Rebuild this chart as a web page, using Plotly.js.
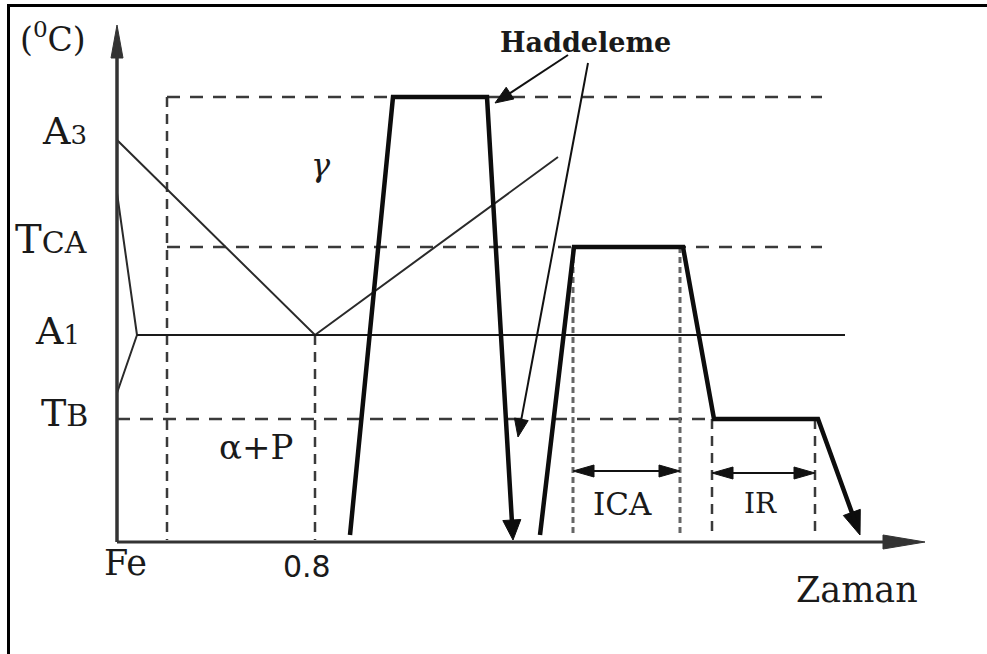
<!DOCTYPE html>
<html>
<head>
<meta charset="utf-8">
<script src="https://cdn.plot.ly/plotly-3.0.1.min.js"></script>
<style>html,body{margin:0;padding:0;background:#fff;}#chart{width:987px;height:654px;}</style>
</head>
<body>
<div id="chart"></div>
<script>
// ---- Schematic data (drawing units: x to the right = time / composition, y downward = lower temperature) ----
// Axes
const yAxisX = [117, 117];      const yAxisY = [542, 25];
const xAxisX = [117, 925];      const xAxisY = [542, 542];

// Fe–C phase diagram lines (A3 and Acm branches, A1 line, left small loop)
const a3BranchX = [117, 315, 558]; const a3BranchY = [140, 335, 157];
const leftLoopX = [117, 137, 117]; const leftLoopY = [193, 335, 393];
const a1LineX   = [137, 845];      const a1LineY   = [335, 335];

// Thermal process paths (thick)
const rollingX  = [350, 393, 487, 513];               const rollingY  = [535, 97, 97, 540];
const treatX    = [540, 574, 683, 714, 818, 860];      const treatY    = [535, 247, 247, 419, 419, 535];

// Dashed guide lines (horizontal levels and vertical markers)
const dashHX = [[167, 822], [167, 822], [117, 714]];
const dashHY = [[97, 97],   [247, 247], [419, 419]];
const dashVX = [[167, 167], [315, 315], [712, 712], [815, 815]];
const dashVY = [[97, 540],  [335, 540], [419, 535], [419, 535]];
const dotVX  = [[573, 573], [680, 680]];
const dotVY  = [[247, 535], [247, 535]];

// "Haddeleme" pointer arrows
const pointerX = [[568, 495], [588, 518]];
const pointerY = [[55, 103],  [63, 437]];

// Interval arrows ICA and IR
const spanX = [[573, 680], [712, 815]];
const spanY = [[471, 471], [473, 473]];

// Labels
const labelText = ['(<sup>0</sup>C)', 'A<span style="font-size:26px">3</span>', 'T<span style="font-size:30px">CA</span>',
  'A<span style="font-size:26px">1</span>', 'T<span style="font-size:30px">B</span>', 'Fe', 'Zaman',
  '<b>Haddeleme</b>', '<i>γ</i>', 'α+P', 'ICA', 'IR'];
const labelX = [53, 64, 51, 57, 64, 125, 857, 585, 321, 256, 622, 760];
const labelY = [37, 131, 239, 331, 413, 563, 590, 42, 165, 447, 504, 503];
const labelSize = [33, 38, 40, 38, 38, 35, 35, 27, 32, 34, 31, 28];
const tickText = ['0.8']; const tickX = [307]; const tickY = [566];

// ---- Build traces ----
const traces = [];
function seg(xs, ys, color, width, dash) {
  const x = [], y = [];
  xs.forEach((s, i) => { x.push(...s, null); y.push(...ys[i], null); });
  traces.push({type:'scatter', mode:'lines', x, y, hoverinfo:'skip', connectgaps:false,
    line:{color, width, dash: dash || 'solid'}});
}
function line(x, y, color, width) {
  traces.push({type:'scatter', mode:'lines', x, y, hoverinfo:'skip', line:{color, width}});
}
function head(x0, y0, x1, y1, L, W, color) {
  const dx = x1 - x0, dy = y1 - y0, d = Math.hypot(dx, dy), ux = dx / d, uy = dy / d;
  const bx = x1 - ux * L, by = y1 - uy * L, nx = -uy, ny = ux;
  traces.push({type:'scatter', mode:'lines', fill:'toself', fillcolor:color, hoverinfo:'skip',
    x:[x1, bx + nx * W, bx - nx * W, x1], y:[y1, by + ny * W, by - ny * W, y1], line:{color, width:1}});
  return [x1 - ux * L * 0.6, y1 - uy * L * 0.6];
}
function arrowLine(xs, ys, color, width, L, W) {
  const n = xs.length;
  const e = head(xs[n - 2], ys[n - 2], xs[n - 1], ys[n - 1], L, W, color);
  line(xs.slice(0, n - 1).concat([e[0]]), ys.slice(0, n - 1).concat([e[1]]), color, width);
}

// guides
seg(dashHX, dashHY, '#3a3a3a', 2.5, '13px,10px');
seg(dashVX, dashVY, '#3a3a3a', 2.5, '10px,7px');
seg(dotVX, dotVY, '#666', 3, '6px,4px');
// phase diagram
line(a3BranchX, a3BranchY, '#2a2a2a', 2);
line(leftLoopX, leftLoopY, '#2a2a2a', 2);
line(a1LineX, a1LineY, '#1a1a1a', 2);
// axes
arrowLine(yAxisX, yAxisY, '#333', 3.5, 33, 6);
arrowLine(xAxisX, xAxisY, '#333', 3, 42, 7);
// process paths
arrowLine(rollingX, rollingY, '#0d0d0d', 4.5, 20, 9);
arrowLine(treatX, treatY, '#0d0d0d', 4.5, 24, 9);
// pointers
pointerX.forEach((px, i) => arrowLine(px, pointerY[i], '#111', 2, 18, 7));
// spans (double arrows)
spanX.forEach((sx, i) => {
  const sy = spanY[i];
  const e1 = head(sx[0], sy[0], sx[1], sy[1], 21, 6, '#111');
  const e0 = head(sx[1], sy[1], sx[0], sy[0], 21, 6, '#111');
  line([e0[0], e1[0]], [e0[1], e1[1]], '#111', 2);
});

const annotations = labelText.map((t, i) => ({
  x: labelX[i], y: labelY[i], xref:'x', yref:'y', text: t, showarrow:false,
  xanchor:'center', yanchor:'middle',
  font:{family:'DejaVu Serif', size: labelSize[i], color:'#1a1a1a'}
}));
tickText.forEach((t, i) => annotations.push({x: tickX[i], y: tickY[i], xref:'x', yref:'y', text:t,
  showarrow:false, xanchor:'center', yanchor:'middle', font:{family:'DejaVu Sans', size:30, color:'#1a1a1a'}}));

const layout = {
  width: 987, height: 654, margin:{l:0, r:0, t:0, b:0},
  paper_bgcolor:'#fff', plot_bgcolor:'#fff', showlegend:false,
  xaxis:{range:[0, 987], visible:false, fixedrange:true},
  yaxis:{range:[654, 0], visible:false, fixedrange:true},
  annotations,
  shapes:[
    {type:'line', xref:'x', yref:'y', x0:7, y0:5.5, x1:987, y1:5.5, line:{color:'#000', width:3}},
    {type:'line', xref:'x', yref:'y', x0:8.5, y0:4, x1:8.5, y1:654, line:{color:'#000', width:3}}
  ]
};
Plotly.newPlot('chart', traces, layout, {staticPlot:true, displayModeBar:false});
</script>
</body>
</html>
